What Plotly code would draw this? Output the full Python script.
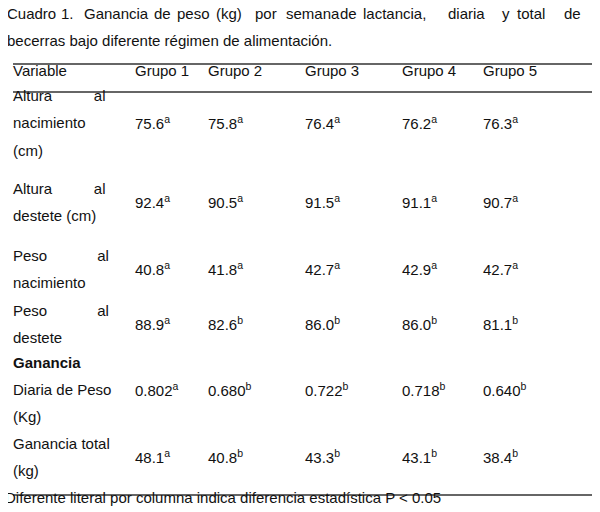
import plotly.graph_objects as go

W, H = 600, 512
title_lines = ["Cuadro 1. Ganancia de peso (kg) por semana de lactancia, diaria y total de",
               "becerras bajo diferente régimen de alimentación."]
groups = ["Grupo 1", "Grupo 2", "Grupo 3", "Grupo 4", "Grupo 5"]
variables = [["Altura          al", "nacimiento", "(cm)"],
             ["Altura          al", "destete (cm)"],
             ["Peso            al", "nacimiento"],
             ["Peso            al", "destete"],
             ["<b>Ganancia</b>", "Diaria de Peso", "(Kg)"],
             ["Ganancia total", "(kg)"]]
values = [["75.6", "75.8", "76.4", "76.2", "76.3"],
          ["92.4", "90.5", "91.5", "91.1", "90.7"],
          ["40.8", "41.8", "42.7", "42.9", "42.7"],
          ["88.9", "82.6", "86.0", "86.0", "81.1"],
          ["0.802", "0.680", "0.722", "0.718", "0.640"],
          ["48.1", "40.8", "43.3", "43.1", "38.4"]]
letters = [list("aaaaa"), list("aaaaa"), list("aaaaa"), list("abbbb"), list("abbbb"), list("abbbb")]
footnote = "Diferente literal por columna indica diferencia estadística P < 0.05"

DX, DY = -9, -8
col_x = [134, 207, 304, 401, 482]
row_lines_y = [[95, 122, 150], [188, 215], [255, 282], [310, 337], [362, 389, 416], [443, 470]]
value_y = [122, 201, 268, 323, 389, 456]

def py(y):
    return 1 - (y + DY) / H

def px(x):
    return (x + DX) / W

fig = go.Figure()
font = dict(family="Liberation Sans, Arial", size=15, color="#111")
ann = []
def add(x, y, t, anchor="left", **kw):
    ann.append(dict(x=px(x), y=py(y), xref="paper", yref="paper", text=t, showarrow=False,
                    xanchor=anchor, yanchor="middle", font=font, **kw))

# justified first title line: place words spread between 6 and 578
words = title_lines[0].split(" ")
lens = [len(w) for w in words]
total = sum(lens)
span = 578 - 6
gap = (span - total * 7.6) / (len(words) - 1)
x = 6
for w, l in zip(words, lens):
    add(x, 13, w)
    x += l * 7.6 + gap
add(6, 40, title_lines[1])
add(12, 70, "Variable")
for g, xx in zip(groups, col_x):
    add(xx, 70, g)
for lines, ys in zip(variables, row_lines_y):
    for t, y in zip(lines, ys):
        add(12, y, t)
for vals, lets, y in zip(values, letters, value_y):
    for v, l, xx in zip(vals, lets, col_x):
        add(xx, y, f"{v}<sup>{l}</sup>")
add(4, 497, footnote)

shapes = [dict(type="line", xref="paper", yref="paper", x0=5 / W, x1=595 / W,
               y0=1 - yy / H, y1=1 - yy / H,
               line=dict(color="#333", width=1.3)) for yy in (56, 84, 487)]

fig.update_layout(width=W, height=H, margin=dict(l=0, r=0, t=0, b=0),
                  paper_bgcolor="white", plot_bgcolor="white",
                  xaxis=dict(visible=False), yaxis=dict(visible=False),
                  annotations=ann, shapes=shapes)
fig.write_html("out.html")
